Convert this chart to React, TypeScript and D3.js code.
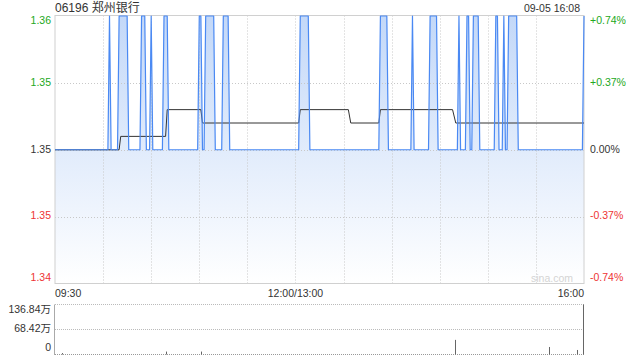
import React from "react";
import * as d3 from "d3";

const stockTitle = "06196 郑州银行";
const timestamp = "09-05 16:08";
const prevClose = 1.35;
const priceLow = 1.34;
const priceHigh = 1.36;
const totalMinutes = 330;

// minute ranges (from 09:30, trading minutes) where the price sat at 1.36
const highRuns: [number, number][] = [
  [34, 34], [40, 45], [54, 56], [60, 60], [68, 70], [90, 91], [94, 99],
  [105, 108], [153, 158], [203, 207], [223, 223], [234, 238], [252, 252],
  [257, 258], [261, 264], [275, 276], [280, 280], [283, 288], [330, 330],
];

// average price line vertices [minute, price]
const avgPoints: [number, number][] = [
  [0, 1.35], [40, 1.35], [41, 1.351], [69, 1.351], [70, 1.353], [91, 1.353],
  [92, 1.352], [152, 1.352], [153, 1.353], [183, 1.353], [184.5, 1.352],
  [202, 1.352], [203, 1.353], [248, 1.353], [250, 1.352], [330, 1.352],
];

const priceTicks = [1.36, 1.355, 1.35, 1.345, 1.34];
const priceTickLabels = ["1.36", "1.35", "1.35", "1.35", "1.34"];
const pctTickLabels = ["+0.74%", "+0.37%", "0.00%", "-0.37%", "-0.74%"];
const timeTicks = [0, 150, 330];
const timeTickLabels = ["09:30", "12:00/13:00", "16:00"];
const gridMinutes = [30, 60, 90, 120, 150, 180, 210, 240, 270, 300];

const volumeMax = 136.84;
const volumeTicks = [136.84, 68.42, 0];
const volumeTickLabels = ["136.84万", "68.42万", "0"];
// notable volume bars [minute, 万股]
const volumeBars: [number, number][] = [
  [5, 4], [70, 8], [92, 8], [250, 40], [309, 20.6], [326, 12.4], [330, 136.84],
];

const GREEN = "#22a822";
const RED = "#ee3333";
const FONT = "'Liberation Sans', Arial, 'Noto Sans CJK SC', sans-serif";

export default function App() {
  const L = 55, R = 584, T = 15.5, B = 283.5;
  const x = d3.scaleLinear().domain([0, totalMinutes]).range([L, R]);
  const y = d3.scaleLinear().domain([priceLow, priceHigh]).range([B, T + 0.5]);
  const vy = d3.scaleLinear().domain([0, volumeMax]).range([354.5, 304.5]);

  const pts: [number, number][] = [[0, prevClose]];
  highRuns.forEach(([s, e]) => {
    const last = pts[pts.length - 1][0];
    if (s - 1 > last) pts.push([s - 1, prevClose]);
    pts.push([s, priceHigh]);
    if (e !== s) pts.push([e, priceHigh]);
    if (e + 1 <= totalMinutes) pts.push([e + 1, prevClose]);
  });
  if (pts[pts.length - 1][0] < totalMinutes) pts.push([totalMinutes, prevClose]);

  const line = d3.line<[number, number]>().x(d => x(d[0])).y(d => y(d[1]));
  const area = d3.area<[number, number]>().x(d => x(d[0])).y0(B).y1(d => y(d[1]));

  const labelColor = (i: number) => (i < 2 ? GREEN : i === 2 ? "#333" : RED);
  const labelY = (i: number) => {
    const v = y(priceTicks[i]);
    if (i === 0) return v + 5;
    if (i === priceTicks.length - 1) return v - 5;
    return v;
  };
  const volLabelY = (i: number) => {
    const v = vy(volumeTicks[i]);
    if (i === 0) return v + 6;
    if (i === volumeTicks.length - 1) return v - 6;
    return v;
  };

  return (
    <svg
      width={640}
      height={360}
      style={{ position: "absolute", left: 0, top: 0, background: "#fff" }}
      fontFamily={FONT}
    >
      <defs>
        <linearGradient id="fillGrad" gradientUnits="userSpaceOnUse" x1={0} y1={T} x2={0} y2={B}>
          <stop offset="0%" stopColor="#c3d8f8" />
          <stop offset="100%" stopColor="#ffffff" />
        </linearGradient>
      </defs>

      <text x={L} y={12} fontSize={12} fill="#333">{stockTitle}</text>
      <text x={580} y={12} fontSize={10.5} fill="#333" textAnchor="end">{timestamp}</text>

      {/* area fill */}
      <path d={area(pts) || ""} fill="url(#fillGrad)" />

      {/* grid */}
      {priceTicks.slice(1, -1).map((p, i) => (
        <line key={"h" + i} x1={L} x2={R} y1={Math.round(y(p)) + 0.5} y2={Math.round(y(p)) + 0.5}
          stroke="#c8c8c8" strokeDasharray="1,2" />
      ))}
      {gridMinutes.map((m, i) => (
        <line key={"v" + i} x1={Math.round(x(m)) + 0.5} x2={Math.round(x(m)) + 0.5} y1={T} y2={B}
          stroke="#c8c8c8" strokeDasharray="1,2" />
      ))}

      {/* border */}
      <rect x={L} y={T} width={R - L} height={B - T} fill="none" stroke="#d0d0d0" />

      {/* avg line */}
      <path d={line(avgPoints) || ""} fill="none" stroke="#333" strokeWidth={1} />
      {/* price line */}
      <path d={line(pts) || ""} fill="none" stroke="#4a89f3" strokeWidth={1.2} strokeLinejoin="round" />

      {/* watermark */}
      <text x={573} y={279} fontSize={10.5} fill="#d4d4d4" textAnchor="end" dominantBaseline="middle">sina.com</text>

      {/* price labels */}
      {priceTickLabels.map((t, i) => (
        <text key={"pl" + i} x={51} y={labelY(i)} fontSize={10.5} fill={labelColor(i)}
          textAnchor="end" dominantBaseline="middle">{t}</text>
      ))}
      {pctTickLabels.map((t, i) => (
        <text key={"pr" + i} x={590} y={labelY(i)} fontSize={10.5} fill={labelColor(i)}
          textAnchor="start" dominantBaseline="middle">{t}</text>
      ))}

      {/* time labels */}
      {timeTicks.map((m, i) => (
        <text key={"t" + i} x={x(m)} y={297} fontSize={10.5} fill="#333"
          textAnchor={i === 0 ? "start" : i === timeTicks.length - 1 ? "end" : "middle"}>
          {timeTickLabels[i]}
        </text>
      ))}

      {/* volume panel */}
      {volumeTicks.slice(0, 2).map((v, i) => (
        <line key={"vg" + i} x1={L} x2={R} y1={vy(v)} y2={vy(v)} stroke="#bbb" strokeDasharray="1,1" />
      ))}
      <line x1={L} x2={R} y1={354.5} y2={354.5} stroke="#999" strokeDasharray="1,1" />
      <line x1={L - 0.5} x2={L - 0.5} y1={304.5} y2={355} stroke="#aaa" />
      {volumeBars.map(([m, v], i) => (
        <line key={"vb" + i} x1={Math.round(x(m)) - 0.5} x2={Math.round(x(m)) - 0.5}
          y1={354.5} y2={vy(v)} stroke="#666" strokeWidth={1} />
      ))}
      {volumeTickLabels.map((t, i) => (
        <text key={"vl" + i} x={51} y={volLabelY(i)} fontSize={10.5} fill="#333"
          textAnchor="end" dominantBaseline="middle">{t}</text>
      ))}
    </svg>
  );
}
